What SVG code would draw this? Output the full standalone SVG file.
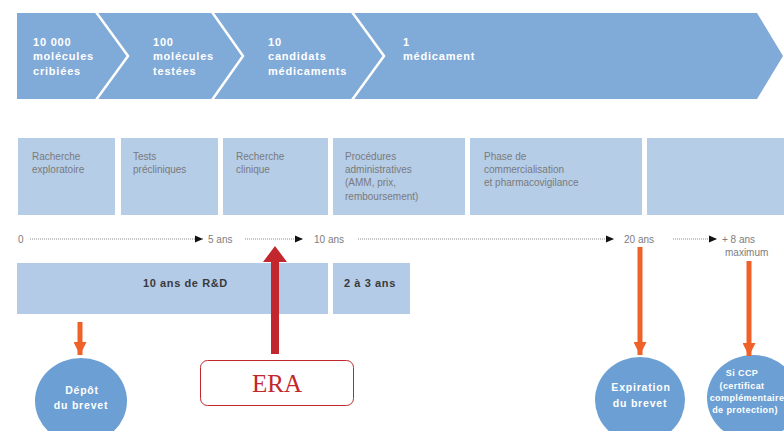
<svg xmlns="http://www.w3.org/2000/svg" width="784" height="431" viewBox="0 0 784 431">
<defs>
<style>
.chev{fill:#80aad8}
.sep{fill:none;stroke:#fff;stroke-width:2.5}
.ct{font-family:"Liberation Sans",Arial,sans-serif;font-weight:bold;font-size:11px;fill:#fff;letter-spacing:0.8px}
.box{fill:#b6cde8}
.bt{font-family:"Liberation Sans",Arial,sans-serif;font-size:10px;fill:#7a7a7a}
.tl{font-family:"Liberation Sans",Arial,sans-serif;font-size:10px;fill:#7d7d7d}
.dot{fill:none;stroke:#8a8a8a;stroke-width:1;stroke-dasharray:1 1}
.bar{fill:#b4cbe7}
.bb{font-family:"Liberation Sans",Arial,sans-serif;font-weight:bold;font-size:11px;fill:#3a3a3a;letter-spacing:0.6px}
.ell{fill:#6c9fd3}
.et{font-family:"Liberation Sans",Arial,sans-serif;font-weight:bold;font-size:10.5px;fill:#fff;letter-spacing:0.8px;text-anchor:middle}
.es{font-family:"Liberation Sans",Arial,sans-serif;font-weight:bold;font-size:9px;fill:#fff;letter-spacing:0.4px;text-anchor:middle}
.or{fill:none;stroke:#f0612a;stroke-width:5}
</style>
<marker id="ah" viewBox="0 0 8 8" refX="8" refY="4" markerWidth="8" markerHeight="8" markerUnits="userSpaceOnUse" orient="auto"><path d="M0,0.5 L8,4 L0,7.5 Z" fill="#111"/></marker>
<marker id="oh" viewBox="0 0 14 13" refX="13" refY="6.5" markerWidth="14" markerHeight="13" markerUnits="userSpaceOnUse" orient="auto"><path d="M0,0 L13,6.5 L0,13 Z" fill="#f0612a"/></marker>
</defs>
<rect width="784" height="431" fill="#fff"/>

<g id="chevrons">
<polygon class="chev" points="17,13 757,13 783,56 757,99 17,99"/>
<polyline class="sep" points="96,12 128,56 96,100"/>
<polyline class="sep" points="212,12 243,56 212,100"/>
<polyline class="sep" points="352,12 384,56 352,100"/>
</g>
<g id="step1"><text class="ct" x="33" y="46">10 000</text><text class="ct" x="33" y="60">molécules</text><text class="ct" x="33" y="75">cribiées</text></g>
<g id="step2"><text class="ct" x="153" y="46">100</text><text class="ct" x="153" y="60">molécules</text><text class="ct" x="153" y="75">testées</text></g>
<g id="step3"><text class="ct" x="268" y="46">10</text><text class="ct" x="268" y="60">candidats</text><text class="ct" x="268" y="75">médicaments</text></g>
<g id="step4"><text class="ct" x="403" y="46">1</text><text class="ct" x="403" y="60">médicament</text></g>

<g id="phase1"><rect class="box" x="18" y="138" width="97" height="77"/><text class="bt" x="32" y="160">Racherche</text><text class="bt" x="32" y="173">exploratoire</text></g>
<g id="phase2"><rect class="box" x="121" y="138" width="97" height="77"/><text class="bt" x="133" y="160">Tests</text><text class="bt" x="133" y="173">précliniques</text></g>
<g id="phase3"><rect class="box" x="223" y="138" width="105" height="77"/><text class="bt" x="236" y="160">Recherche</text><text class="bt" x="236" y="173">clinique</text></g>
<g id="phase4"><rect class="box" x="333" y="138" width="132" height="77"/><text class="bt" x="345" y="160">Procédures</text><text class="bt" x="345" y="173">administratives</text><text class="bt" x="345" y="186">(AMM, prix,</text><text class="bt" x="345" y="200">remboursement)</text></g>
<g id="phase5"><rect class="box" x="470" y="138" width="172" height="77"/><text class="bt" x="484" y="160">Phase de</text><text class="bt" x="484" y="173">commercialisation</text><text class="bt" x="484" y="186">et pharmacovigilance</text></g>
<g id="phase6"><rect class="box" x="647" y="138" width="137" height="77"/></g>

<g id="timeline-labels">
<text class="tl" x="18" y="243">0</text>
<text class="tl" x="208" y="243">5 ans</text>
<text class="tl" x="314" y="243">10 ans</text>
<text class="tl" x="624" y="243">20 ans</text>
<text class="tl" x="722" y="243">+ 8 ans</text>
<text class="tl" x="725" y="256">maximum</text>
</g>

<g id="rd"><rect class="bar" x="17" y="263" width="311" height="51"/><text class="bb" x="143" y="287">10 ans de R&amp;D</text></g>
<g id="admin"><rect class="bar" x="333" y="263" width="77" height="51"/><text class="bb" x="344" y="287">2 à 3 ans</text></g>

<g id="depot"><ellipse class="ell" cx="81" cy="401" rx="46" ry="43"/><text class="et" x="82" y="394">Dépôt</text><text class="et" x="81" y="409">du brevet</text></g>
<g id="expiration"><ellipse class="ell" cx="640" cy="400" rx="45" ry="43"/><text class="et" x="641" y="391">Expiration</text><text class="et" x="640" y="407">du brevet</text></g>
<g id="ccp"><ellipse class="ell" cx="753" cy="398" rx="46" ry="43"/><text class="es" x="742" y="376">Si CCP</text><text class="es" x="742" y="389">(certificat</text><text class="es" x="747" y="401">complémentaire</text><text class="es" x="745" y="413">de protection)</text></g>

<g id="era"><rect x="200.5" y="360.5" width="153" height="45" rx="7" fill="#fff" stroke="#c1272d" stroke-width="1"/><text x="277" y="392" font-family="'Liberation Serif','Times New Roman',serif" font-size="25" fill="#c1272d" text-anchor="middle">ERA</text></g>

<g id="connectors">
<line class="dot" x1="30" y1="239" x2="203" y2="239" marker-end="url(#ah)"/>
<line class="dot" x1="245" y1="239" x2="303" y2="239" marker-end="url(#ah)"/>
<line class="dot" x1="358" y1="239" x2="614" y2="239" marker-end="url(#ah)"/>
<line class="dot" x1="673" y1="239" x2="717" y2="239" marker-end="url(#ah)"/>
<line class="or" x1="80" y1="322" x2="80" y2="355" marker-end="url(#oh)"/>
<line class="or" x1="640" y1="247" x2="640" y2="355" marker-end="url(#oh)"/>
<line class="or" x1="749" y1="261" x2="749" y2="356" marker-end="url(#oh)"/>
<rect x="271" y="260" width="8" height="94" fill="#c1272d"/>
<polygon points="275,246 287,262 263,262" fill="#c1272d"/>
</g>
</svg>
